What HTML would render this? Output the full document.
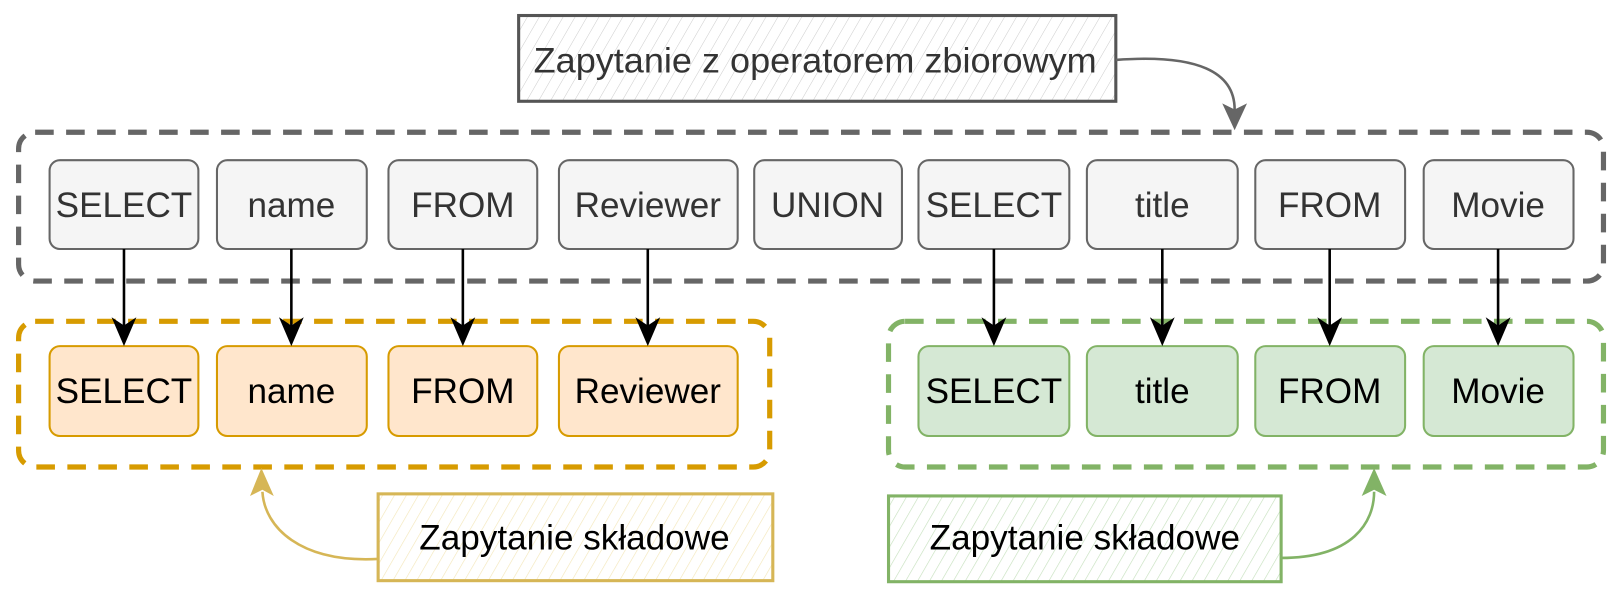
<!DOCTYPE html>
<html><head><meta charset="utf-8"><style>
html,body{margin:0;padding:0;background:#fff;}
svg{display:block;}
text{font-family:"Liberation Sans",Arial,sans-serif;}
</style></head><body>
<svg width="1620" height="600" viewBox="0 0 1568 580.7" xmlns="http://www.w3.org/2000/svg">
<defs>
<pattern id="hg" width="10" height="10" patternUnits="userSpaceOnUse" patternTransform="rotate(30)"><line x1="0" y1="0" x2="0" y2="10" stroke="#ccc" stroke-width="1"/></pattern>
<pattern id="hy" width="10" height="10" patternUnits="userSpaceOnUse" patternTransform="rotate(30)"><line x1="0" y1="0" x2="0" y2="10" stroke="#f3e6b8" stroke-width="1.2"/></pattern>
<pattern id="hgr" width="10" height="10" patternUnits="userSpaceOnUse" patternTransform="rotate(30)"><line x1="0" y1="0" x2="0" y2="10" stroke="#c5e0bc" stroke-width="1.2"/></pattern>
<path id="ah" d="M-12,-28 L0,0 L12,-28 L0,-20 Z" fill="#000"/>
</defs>

<!-- top label -->
<rect x="502" y="15" width="578" height="83" fill="url(#hg)" stroke="#555" stroke-width="3"/>
<text x="789" y="70" font-size="34" text-anchor="middle" fill="#333" textLength="545" lengthAdjust="spacingAndGlyphs">Zapytanie z operatorem zbiorowym</text>
<path d="M1080,58 C1160,52 1195,70 1195,106" fill="none" stroke="#666" stroke-width="2.5"/>
<path d="M1183,100 L1195,126 L1207,100 L1195,106 Z" fill="#666"/>

<!-- gray container -->
<rect x="18" y="128" width="1534" height="144" rx="16" fill="none" stroke="#666" stroke-width="5" stroke-dasharray="18,12"/>
<g stroke="#666" stroke-width="2" fill="#f5f5f5">
<rect x="48" y="155" width="144" height="86" rx="10"/>
<rect x="210" y="155" width="145" height="86" rx="10"/>
<rect x="376" y="155" width="144" height="86" rx="10"/>
<rect x="541" y="155" width="173" height="86" rx="10"/>
<rect x="730" y="155" width="143" height="86" rx="10"/>
<rect x="889" y="155" width="146" height="86" rx="10"/>
<rect x="1052" y="155" width="146" height="86" rx="10"/>
<rect x="1215" y="155" width="145" height="86" rx="10"/>
<rect x="1378" y="155" width="145" height="86" rx="10"/>
</g>
<g font-size="34" text-anchor="middle" fill="#333">
<text x="120" y="210">SELECT</text>
<text x="282" y="210">name</text>
<text x="448" y="210">FROM</text>
<text x="627" y="210">Reviewer</text>
<text x="801" y="210">UNION</text>
<text x="962" y="210">SELECT</text>
<text x="1125" y="210">title</text>
<text x="1287" y="210">FROM</text>
<text x="1450" y="210">Movie</text>
</g>

<!-- orange container -->
<rect x="18" y="311" width="727" height="141" rx="16" fill="none" stroke="#d79b00" stroke-width="5" stroke-dasharray="18,12"/>
<g stroke="#d79b00" stroke-width="2" fill="#ffe6cc">
<rect x="48" y="335" width="144" height="87" rx="10"/>
<rect x="210" y="335" width="145" height="87" rx="10"/>
<rect x="376" y="335" width="144" height="87" rx="10"/>
<rect x="541" y="335" width="173" height="87" rx="10"/>
</g>
<!-- green container -->
<rect x="860" y="311" width="692" height="141" rx="16" fill="none" stroke="#82b366" stroke-width="5" stroke-dasharray="18,12"/>
<g stroke="#82b366" stroke-width="2" fill="#d5e8d4">
<rect x="889" y="335" width="146" height="87" rx="10"/>
<rect x="1052" y="335" width="146" height="87" rx="10"/>
<rect x="1215" y="335" width="145" height="87" rx="10"/>
<rect x="1378" y="335" width="145" height="87" rx="10"/>
</g>
<g font-size="34" text-anchor="middle" fill="#000">
<text x="120" y="390">SELECT</text>
<text x="282" y="390">name</text>
<text x="448" y="390">FROM</text>
<text x="627" y="390">Reviewer</text>
<text x="962" y="390">SELECT</text>
<text x="1125" y="390">title</text>
<text x="1287" y="390">FROM</text>
<text x="1450" y="390">Movie</text>
</g>

<!-- arrows -->
<g stroke="#000" stroke-width="2.5" fill="none">
<line x1="120" y1="241" x2="120" y2="318"/>
<line x1="282" y1="241" x2="282" y2="318"/>
<line x1="448" y1="241" x2="448" y2="318"/>
<line x1="627" y1="241" x2="627" y2="318"/>
<line x1="962" y1="241" x2="962" y2="318"/>
<line x1="1125" y1="241" x2="1125" y2="318"/>
<line x1="1287" y1="241" x2="1287" y2="318"/>
<line x1="1450" y1="241" x2="1450" y2="318"/>
</g>
<use href="#ah" x="120" y="335"/>
<use href="#ah" x="282" y="335"/>
<use href="#ah" x="448" y="335"/>
<use href="#ah" x="627" y="335"/>
<use href="#ah" x="962" y="335"/>
<use href="#ah" x="1125" y="335"/>
<use href="#ah" x="1287" y="335"/>
<use href="#ah" x="1450" y="335"/>

<!-- bottom labels -->
<rect x="366" y="478" width="382" height="84" fill="url(#hy)" stroke="#d6b656" stroke-width="3"/>
<text x="556" y="532" font-size="34" text-anchor="middle" fill="#000">Zapytanie składowe</text>
<path d="M366,541 C290,545 256,510 254,476" fill="none" stroke="#d6b656" stroke-width="2.5"/>
<path d="M242,480 L253,453 L265,480 L254,474 Z" fill="#d6b656"/>

<rect x="860" y="480" width="380" height="83" fill="url(#hgr)" stroke="#82b366" stroke-width="3"/>
<text x="1050" y="532" font-size="34" text-anchor="middle" fill="#000">Zapytanie składowe</text>
<path d="M1240,540 C1310,540 1330,505 1330,476" fill="none" stroke="#82b366" stroke-width="2.5"/>
<path d="M1318,480 L1330,453 L1342,480 L1330,474 Z" fill="#82b366"/>
</svg>
</body></html>
